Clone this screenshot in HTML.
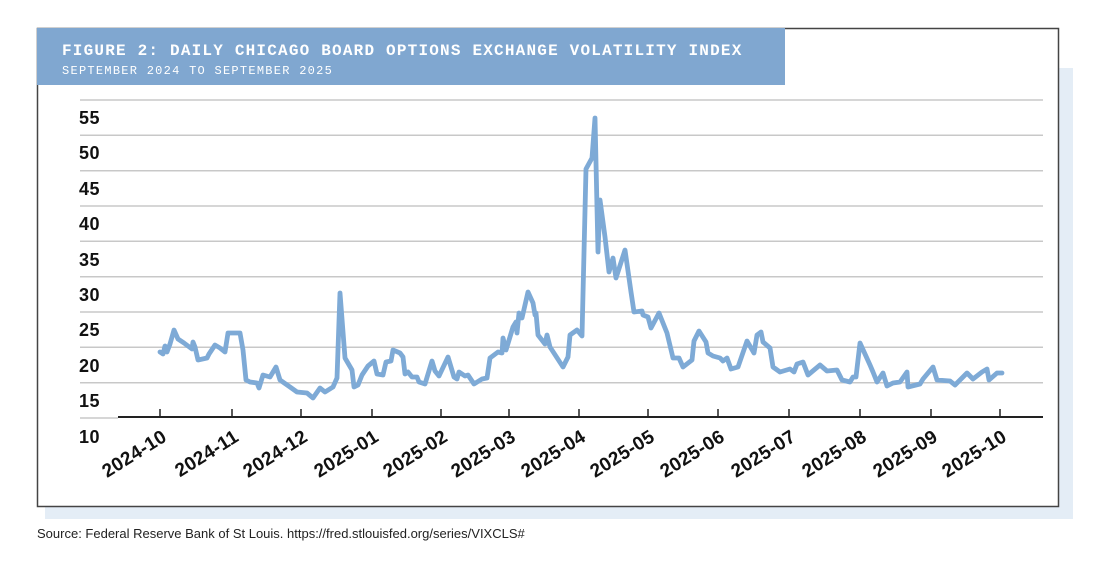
<!DOCTYPE html>
<html><head><meta charset="utf-8"><style>
body{margin:0;background:#fff;width:1110px;height:562px;overflow:hidden}
</style></head><body>
<svg width="1110" height="562" xmlns="http://www.w3.org/2000/svg" style="display:block">
<rect x="45" y="68" width="1028" height="451" fill="#e4edf6"/>
<rect x="37.5" y="28.5" width="1021" height="478" fill="#fff" stroke="#444" stroke-width="1.5"/>
<rect x="37" y="28" width="748" height="57" fill="#80a7d0"/>
<text x="62" y="55" font-family="Liberation Mono, monospace" font-weight="bold" font-size="16" fill="#fff" letter-spacing="1.2">FIGURE 2: DAILY CHICAGO BOARD OPTIONS EXCHANGE VOLATILITY INDEX</text>
<text x="62" y="74" font-family="Liberation Mono, monospace" font-size="12" fill="#fff" letter-spacing="1.27">SEPTEMBER 2024 TO SEPTEMBER 2025</text>
<g stroke="#c8c8c8" stroke-width="1.5">
<line x1="80" x2="1043" y1="100" y2="100"/><line x1="80" x2="1043" y1="135.3" y2="135.3"/>
<line x1="80" x2="1043" y1="170.7" y2="170.7"/><line x1="80" x2="1043" y1="206" y2="206"/>
<line x1="80" x2="1043" y1="241.3" y2="241.3"/><line x1="80" x2="1043" y1="276.7" y2="276.7"/>
<line x1="80" x2="1043" y1="312" y2="312"/><line x1="80" x2="1043" y1="347.3" y2="347.3"/>
<line x1="80" x2="1043" y1="382.7" y2="382.7"/><line x1="80" x2="118" y1="418" y2="418"/>
</g>
<g font-family="Liberation Sans, sans-serif" font-weight="bold" font-size="18" fill="#111" letter-spacing="0.5">
<text x="79" y="124">55</text><text x="79" y="159">50</text><text x="79" y="195">45</text>
<text x="79" y="230">40</text><text x="79" y="266">35</text><text x="79" y="301">30</text>
<text x="79" y="336">25</text><text x="79" y="372">20</text><text x="79" y="407">15</text>
<text x="79" y="443">10</text>
</g>
<line x1="118" x2="1043" y1="417" y2="417" stroke="#222" stroke-width="2"/>
<g stroke="#222" stroke-width="1.5">
<line x1="160" x2="160" y1="409" y2="417"/><line x1="232" x2="232" y1="409" y2="417"/>
<line x1="301" x2="301" y1="409" y2="417"/><line x1="372" x2="372" y1="409" y2="417"/>
<line x1="441" x2="441" y1="409" y2="417"/><line x1="509" x2="509" y1="409" y2="417"/>
<line x1="579" x2="579" y1="409" y2="417"/><line x1="648" x2="648" y1="409" y2="417"/>
<line x1="718" x2="718" y1="409" y2="417"/><line x1="789" x2="789" y1="409" y2="417"/>
<line x1="860" x2="860" y1="409" y2="417"/><line x1="931" x2="931" y1="409" y2="417"/>
<line x1="1000" x2="1000" y1="409" y2="417"/>
</g>
<g font-family="Liberation Sans, sans-serif" font-weight="bold" font-size="19" fill="#111" text-anchor="end" letter-spacing="0.3">
<text transform="translate(168,440) rotate(-32)">2024-10</text>
<text transform="translate(240,440) rotate(-32)">2024-11</text>
<text transform="translate(309,440) rotate(-32)">2024-12</text>
<text transform="translate(380,440) rotate(-32)">2025-01</text>
<text transform="translate(449,440) rotate(-32)">2025-02</text>
<text transform="translate(517,440) rotate(-32)">2025-03</text>
<text transform="translate(587,440) rotate(-32)">2025-04</text>
<text transform="translate(656,440) rotate(-32)">2025-05</text>
<text transform="translate(726,440) rotate(-32)">2025-06</text>
<text transform="translate(797,440) rotate(-32)">2025-07</text>
<text transform="translate(868,440) rotate(-32)">2025-08</text>
<text transform="translate(939,440) rotate(-32)">2025-09</text>
<text transform="translate(1008,440) rotate(-32)">2025-10</text>
</g>
<polyline fill="none" stroke="#7eaad6" stroke-width="4.8" stroke-linejoin="round" stroke-linecap="round" points="
160,352 163,354 165,346 167,352 170,344 174,330 178,339 184,343 192,349 193,342 195,347 198,360 207,358 209,354 215,345 220,348 225,352 228,333 240,333 243,350 246,380 250,382 257,383 259,388 263,375 270,377 276,367 280,380 290,387 297,392 307,393 313,398 320,388 325,392 333,387 337,378 340,293 345,358 352,370 354,387 358,385 362,375 368,366 374,361 377,374 383,375 386,362 391,361 393,350 400,353 403,357 405,374 408,372 412,377 417,377 419,382 425,384 432,361 435,371 439,376 448,357 454,377 457,379 459,372 465,376 468,375 474,384 482,379 487,378 490,358 498,352 502,353 503,338 506,350 513,327 516,322 517,333 519,313 522,318 528,292 533,303 535,315 536,313 538,335 545,344 547,335 550,347 563,367 568,357 570,335 577,330 582,336 586,169 592,158 595,118 598,252 600,200 605,237 609,272 613,258 616,278 625,250 631,292 634,312 642,311 643,315 648,317 651,328 659,313 667,333 673,358 679,358 683,367 692,360 694,341 699,331 706,342 708,353 713,356 720,358 723,361 727,358 731,369 738,367 747,341 754,353 757,335 761,332 763,342 770,348 773,367 780,372 790,369 794,372 797,364 803,362 808,375 820,365 827,371 837,370 842,380 850,382 853,377 856,377 860,343 870,365 873,372 877,382 883,373 887,386 893,383 900,382 907,372 908,387 920,384 923,379 933,367 937,380 950,381 955,385 967,373 973,379 982,372 987,369 989,380 997,373 1002,373"/>
<text x="37" y="538" font-family="Liberation Sans, sans-serif" font-size="13" fill="#222">Source: Federal Reserve Bank of St Louis. https://fred.stlouisfed.org/series/VIXCLS#</text>
</svg>
</body></html>
